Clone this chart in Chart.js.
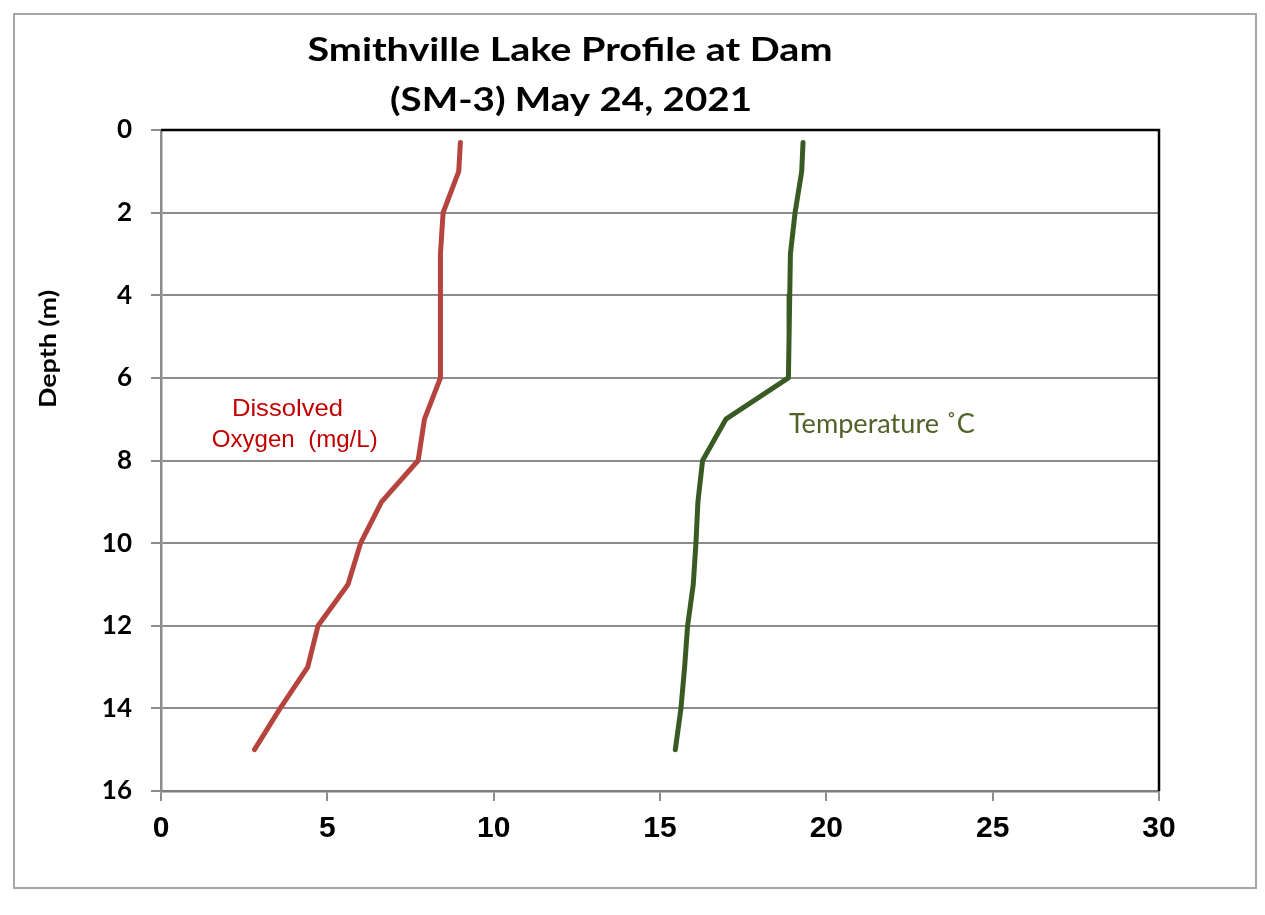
<!DOCTYPE html>
<html>
<head>
<meta charset="utf-8">
<script src="https://cdn.jsdelivr.net/npm/chart.js@4.4.1/dist/chart.umd.min.js"></script>
<style>
  body { margin: 0; background: #fff; }
  #wrap { width: 1265px; height: 915px; }
</style>
</head>
<body>
<div id="wrap"><canvas id="myChart" width="1265" height="915"></canvas></div>
<script>
// depth of each reading (m) and the two profiles
const depths = [0.3, 1, 2, 3, 4, 5, 6, 7, 8, 9, 10, 11, 12, 13, 14, 15];
const oxygen = [9.0, 8.95, 8.48, 8.4, 8.4, 8.4, 8.4, 7.92, 7.73, 6.63, 6.0, 5.62, 4.72, 4.41, 3.58, 2.81];
const temperature = [19.3, 19.26, 19.06, 18.92, 18.9, 18.88, 18.86, 16.98, 16.28, 16.14, 16.08, 16.0, 15.83, 15.74, 15.63, 15.46];

const titleLines = ['Smithville Lake Profile at Dam', '(SM-3) May 24, 2021'];
const yTitle = 'Depth (m)';
const xTicks = [0, 5, 10, 15, 20, 25, 30];
const yTicks = [0, 2, 4, 6, 8, 10, 12, 14, 16];

// text drawn with a horizontal stretch so it fills a given width
function drawFitted(ctx, text, cx, baseY, font, width, color) {
    ctx.save();
    ctx.font = font;
    const w = ctx.measureText(text).width;
    const sx = width / w;
    ctx.translate(cx, baseY);
    ctx.scale(sx, 1);
    ctx.fillStyle = color;
    ctx.textAlign = 'center';
    ctx.textBaseline = 'alphabetic';
    ctx.fillText(text, 0, 0);
    ctx.restore();
}

const decorations = {
    id: 'decorations',
    beforeDraw(chart) {
        const ctx = chart.ctx;
        ctx.save();
        ctx.fillStyle = '#fff';
        ctx.fillRect(0, 0, chart.width, chart.height);
        ctx.strokeStyle = '#a6a6a6';
        ctx.lineWidth = 2;
        ctx.strokeRect(14, 14, 1242, 874);
        ctx.restore();
    },
    afterDatasetsDraw(chart) {
        const ctx = chart.ctx;
        const a = chart.chartArea;
        const x = chart.scales.x;
        const y = chart.scales.y;

        // black top and right frame
        ctx.save();
        ctx.strokeStyle = '#000';
        ctx.lineWidth = 2.5;
        ctx.beginPath();
        ctx.moveTo(a.left, a.top);
        ctx.lineTo(a.right, a.top);
        ctx.lineTo(a.right, a.bottom);
        ctx.stroke();
        ctx.restore();

        // titles
        drawFitted(ctx, titleLines[0], 570, 61, 'bold 33px Lato', 525, '#000');
        drawFitted(ctx, titleLines[1], 571, 111, 'bold 33px Lato', 362, '#000');

        // y axis title
        ctx.save();
        ctx.translate(56, 349);
        ctx.rotate(-Math.PI / 2);
        drawFitted(ctx, yTitle, 0, 0, 'bold 23px Lato', 118, '#000');
        ctx.restore();

        // series labels
        drawFitted(ctx, 'Dissolved', x.getPixelForValue(3.8), y.getPixelForValue(6.92),
            '24px "Liberation Sans"', 111, '#c00000');
        drawFitted(ctx, 'Oxygen  (mg/L)', x.getPixelForValue(4.02), y.getPixelForValue(7.67),
            '24px "Liberation Sans"', 166, '#c00000');
        drawFitted(ctx, 'Temperature ˚C', x.getPixelForValue(21.67), y.getPixelForValue(7.33),
            '26px Lato', 186, '#4f6228');
    }
};

function buildGraphic() {
    const ctx = document.getElementById('myChart').getContext('2d');

    const data = {
        datasets: [{
            label: 'Dissolved Oxygen (mg/L)',
            data: depths.map((d, i) => ({ x: oxygen[i], y: d })),
            borderColor: '#b5443f',
            borderWidth: 5,
            pointRadius: 0,
            showLine: true,
            borderCapStyle: 'round',
            borderJoinStyle: 'round'
        }, {
            label: 'Temperature ˚C',
            data: depths.map((d, i) => ({ x: temperature[i], y: d })),
            borderColor: '#3a5a24',
            borderWidth: 5,
            pointRadius: 0,
            showLine: true,
            borderCapStyle: 'round',
            borderJoinStyle: 'round'
        }]
    };

    const config = {
        type: 'scatter',
        data: data,
        options: {
            responsive: false,
            animation: false,
            layout: {
                padding: { top: 130, right: 106, left: 0, bottom: 0 }
            },
            plugins: {
                legend: { display: false },
                tooltip: { enabled: false }
            },
            scales: {
                x: {
                    type: 'linear',
                    min: 0,
                    max: 30,
                    afterBuildTicks: scale => {
                        scale.ticks = xTicks.map(v => ({ value: v }));
                    },
                    afterFit: scale => { scale.height = 124; },
                    ticks: {
                        font: { family: '"Liberation Sans"', size: 30, weight: 'bold' },
                        color: '#000',
                        padding: 10
                    },
                    grid: {
                        drawOnChartArea: false,
                        drawTicks: true,
                        tickLength: 10,
                        color: '#8c8c8c',
                        lineWidth: 2
                    },
                    border: { color: '#7f7f7f', width: 2.5 }
                },
                y: {
                    type: 'linear',
                    reverse: true,
                    min: 0,
                    max: 16,
                    afterBuildTicks: scale => {
                        scale.ticks = yTicks.map(v => ({ value: v }));
                    },
                    afterFit: scale => { scale.width = 161; },
                    ticks: {
                        font: { family: 'Lato', size: 26, weight: 'bold' },
                        color: '#000',
                        padding: 19
                    },
                    grid: {
                        tickLength: 10,
                        color: '#8c8c8c',
                        lineWidth: 2
                    },
                    border: { color: '#8c8c8c', width: 2.5 }
                }
            }
        },
        plugins: [decorations]
    };

    const myChart = new Chart(ctx, config);
}

buildGraphic();
</script>
</body>
</html>
